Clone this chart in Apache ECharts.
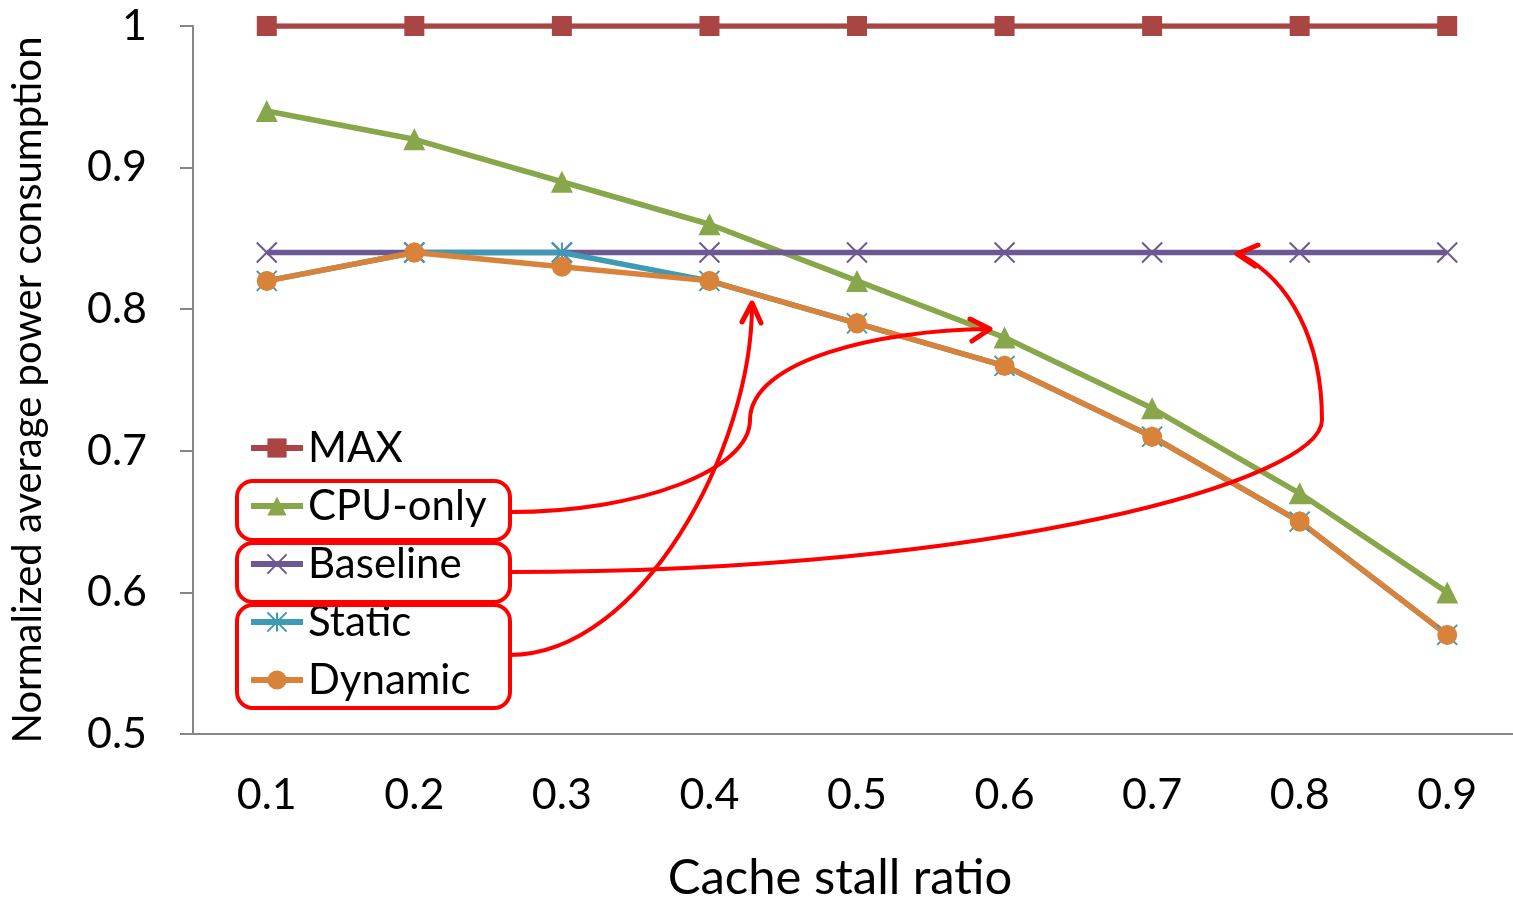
<!DOCTYPE html>
<html>
<head>
<meta charset="utf-8">
<script src="https://cdn.jsdelivr.net/npm/echarts@6/dist/echarts.min.js"></script>
<style>
  html, body { margin: 0; padding: 0; background: #fff; overflow: hidden; }
  #chart { position: absolute; left: 0; top: 0; width: 1513px; height: 899px; }
</style>
</head>
<body>
<div id="chart"></div>
<script>
var categories = ['0.1', '0.2', '0.3', '0.4', '0.5', '0.6', '0.7', '0.8', '0.9']
var maxValues = [1, 1, 1, 1, 1, 1, 1, 1, 1]
var cpuOnly = [0.94, 0.92, 0.89, 0.86, 0.82, 0.78, 0.73, 0.67, 0.60]
var baseline = [0.84, 0.84, 0.84, 0.84, 0.84, 0.84, 0.84, 0.84, 0.84]
var staticVals = [0.82, 0.84, 0.84, 0.82, 0.79, 0.76, 0.71, 0.65, 0.57]
var dynamicVals = [0.82, 0.84, 0.83, 0.82, 0.79, 0.76, 0.71, 0.65, 0.57]

var FONT = 'Lato'
var RED = '#ff0000'
var AXIS_GRAY = '#868686'

function lineSeries (name, data, color, symbol, size, extra) {
  var s = {
    name: name,
    type: 'line',
    data: data,
    symbol: symbol,
    symbolSize: size,
    lineStyle: { color: color, width: 5.5 },
    itemStyle: { color: color },
    emphasis: { disabled: true },
    animation: false
  }
  return Object.assign(s, extra || {})
}

// red annotation: rounded boxes + curved arrows
function box (x, y, w, h) {
  return {
    type: 'rect', z: 100,
    shape: { x: x, y: y, width: w, height: h, r: 16 },
    style: { fill: 'none', stroke: RED, lineWidth: 4 }
  }
}
function curve (p) {
  return {
    type: 'bezierCurve', z: 100,
    shape: { x1: p[0], y1: p[1], cpx1: p[2], cpy1: p[3], cpx2: p[4], cpy2: p[5], x2: p[6], y2: p[7] },
    style: { fill: 'none', stroke: RED, lineWidth: 4 }
  }
}
function head (pts) {
  return {
    type: 'polyline', z: 100,
    shape: { points: pts },
    style: { fill: 'none', stroke: RED, lineWidth: 5, lineCap: 'round', lineJoin: 'round' }
  }
}

var chart = echarts.init(document.getElementById('chart'), null, { width: 1513, height: 899 })

chart.setOption({
  backgroundColor: '#fff',
  animation: false,
  grid: { left: 193, top: 26, width: 1328, height: 708, containLabel: false, outerBoundsMode: 'none' },
  xAxis: {
    type: 'category',
    data: categories,
    boundaryGap: true,
    name: 'Cache stall ratio',
    nameLocation: 'middle',
    nameGap: 120,
    nameTextStyle: { fontFamily: FONT, fontSize: 49, color: '#000', padding: [0, 34, 0, 0] },
    axisLine: { lineStyle: { color: AXIS_GRAY, width: 2 } },
    axisTick: { length: 14, lineStyle: { color: AXIS_GRAY, width: 2 } },
    axisLabel: { fontFamily: FONT, fontSize: 43, color: '#000', margin: 40 },
    splitLine: { show: false }
  },
  yAxis: {
    type: 'value',
    min: 0.5,
    max: 1,
    interval: 0.1,
    name: 'Normalized average power consumption',
    nameLocation: 'middle',
    nameGap: 145,
    nameTextStyle: { fontFamily: FONT, fontSize: 40, color: '#000', padding: [0, 20, 0, 0] },
    axisLine: { show: true, lineStyle: { color: AXIS_GRAY, width: 2 } },
    axisTick: { show: true, length: 13, lineStyle: { color: AXIS_GRAY, width: 2 } },
    axisLabel: { fontFamily: FONT, fontSize: 43, color: '#000', margin: 46 },
    splitLine: { show: false }
  },
  legend: {
    orient: 'vertical',
    left: 248,
    top: 427,
    padding: 0,
    itemWidth: 52,
    itemHeight: 24,
    itemGap: 16,
    lineStyle: { width: 6 },
    textStyle: { fontFamily: FONT, fontSize: 42, color: '#000', padding: [0, 0, 0, 0] },
    data: ['MAX', 'CPU-only', 'Baseline', 'Static', 'Dynamic']
  },
  series: [
    lineSeries('MAX', maxValues, '#a94542', 'rect', 20),
    lineSeries('CPU-only', cpuOnly, '#88a64a', 'triangle', 22),
    lineSeries('Baseline', baseline, '#6d5892', 'path://M0,0L10,10M10,0L0,10', 20, {
      itemStyle: { color: '#6d5892', borderColor: '#6d5892', borderWidth: 2 }
    }),
    lineSeries('Static', staticVals, '#3e9ab5', 'path://M0,0L10,10M10,0L0,10M5,0L5,10', 20, {
      itemStyle: { color: '#3e9ab5', borderColor: '#3e9ab5', borderWidth: 2 }
    }),
    lineSeries('Dynamic', dynamicVals, '#d9833a', 'circle', 20)
  ],
  graphic: [
    box(237, 481, 273, 59),
    box(237, 543, 273, 59),
    box(237, 605, 273, 103),
    // CPU-only box -> CPU-only line
    curve([510, 512, 640, 512, 750, 470, 750, 420]),
    curve([750, 420, 750, 360, 880, 330, 988, 329]),
    head([[970, 319], [990, 329], [972, 341]]),
    // Baseline box -> baseline line
    curve([510, 572, 1000, 572, 1322, 480, 1322, 420]),
    curve([1322, 420, 1322, 340, 1290, 280, 1239, 254]),
    head([[1258, 245], [1237, 254], [1255, 266]]),
    // Static/Dynamic box -> static/dynamic line
    curve([510, 655, 640, 655, 752, 450, 752, 305]),
    head([[742, 322], [752, 303], [761, 323]])
  ]
})
</script>
</body>
</html>
